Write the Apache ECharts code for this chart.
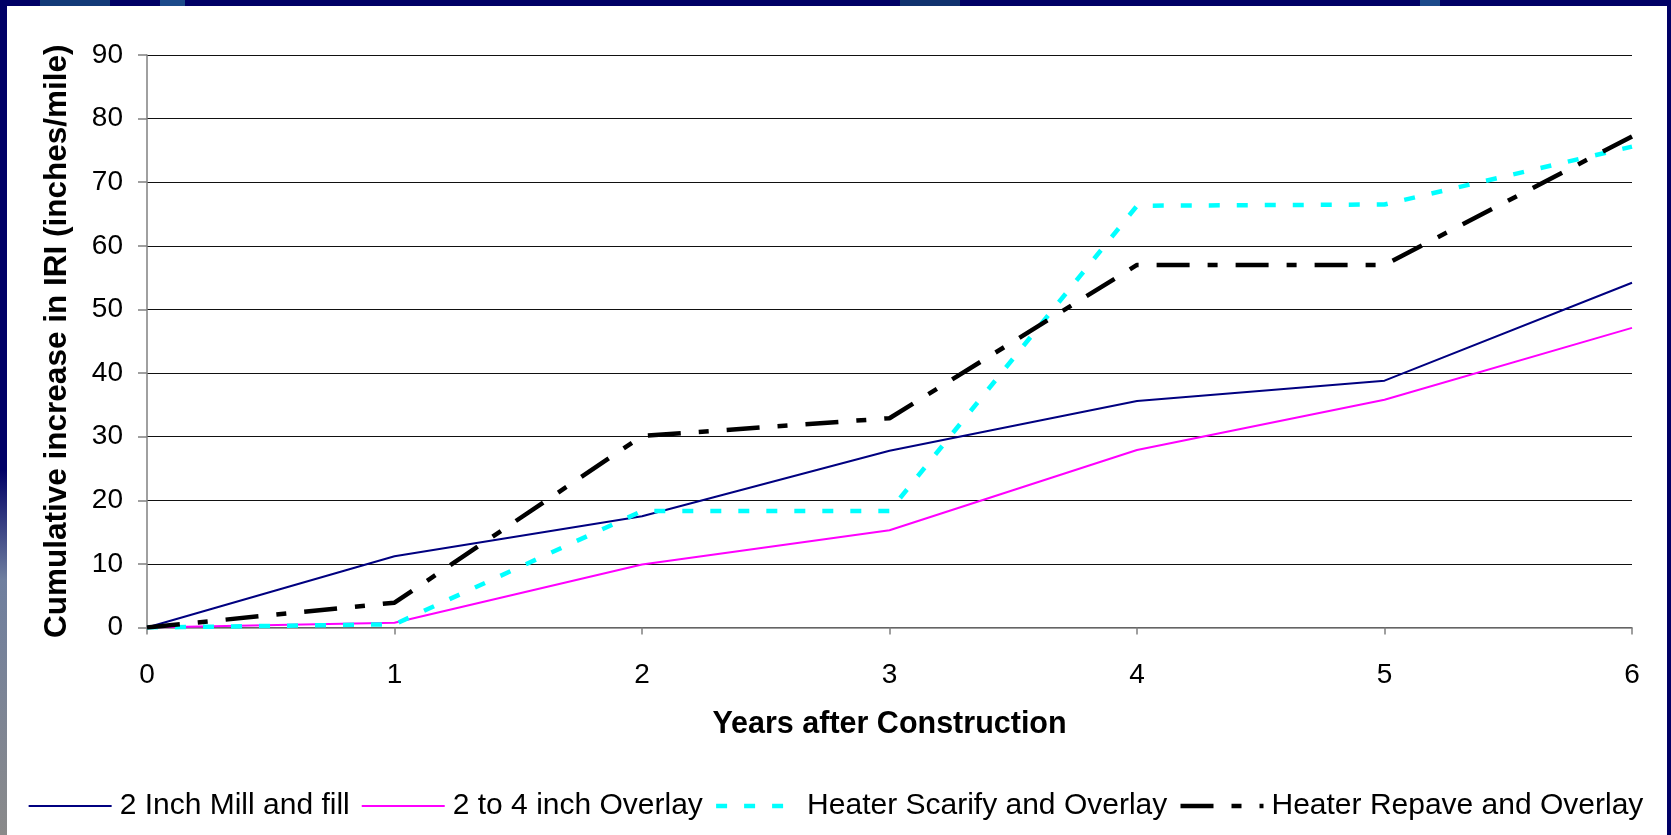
<!DOCTYPE html>
<html>
<head>
<meta charset="utf-8">
<script src="https://cdn.jsdelivr.net/npm/echarts@6/dist/echarts.min.js"></script>
<style>
  html, body { margin: 0; padding: 0; background: #000066; }
  #chart { width: 1671px; height: 835px; }
</style>
</head>
<body>
<div id="chart"></div>
<script>
// Years after construction (x values)
const years = [0, 1, 2, 3, 4, 5, 6];

// Cumulative IRI increase (inches/mile) per treatment
const millAndFill      = [0, 11.2, 17.5, 27.8, 35.6, 38.8, 54.2];
const overlay2to4      = [0, 0.75, 9.9, 15.3, 27.9, 35.8, 47.1];
const heaterScarify    = [0, 0.5, 18.3, 18.3, 66.3, 66.5, 75.6];
const heaterRepave     = [0, 3.9, 30.1, 32.9, 57.0, 57.0, 77.2];

const seriesNames = [
  '2 Inch Mill and fill',
  '2 to 4 inch Overlay',
  'Heater Scarify and Overlay',
  'Heater Repave and Overlay'
];

const yTicks = { min: 0, max: 90, step: 10 };
const xTicks = { min: 0, max: 6, step: 1 };

const pairs = (vals) => years.map((x, i) => [x, vals[i]]);

const chart = echarts.init(document.getElementById('chart'), null, { renderer: 'canvas' });

const font = 'Arial, "Liberation Sans", Helvetica, sans-serif';

chart.setOption({
  backgroundColor: '#000066',
  animation: false,
  graphic: [
    // slide frame accents
    { type: 'rect', shape: { x: 0, y: 470, width: 7, height: 365 },
      style: { fill: new echarts.graphic.LinearGradient(0, 0, 0, 1, [
        { offset: 0, color: '#000066' }, { offset: 0.3, color: '#6f7f9f' },
        { offset: 1, color: '#8a8a8a' }]) }, z: -2 },
    { type: 'rect', shape: { x: 40, y: 0, width: 70, height: 6 }, style: { fill: '#123a78' }, z: -2 },
    { type: 'rect', shape: { x: 160, y: 0, width: 25, height: 6 }, style: { fill: '#1b4a8a' }, z: -2 },
    { type: 'rect', shape: { x: 1420, y: 0, width: 20, height: 6 }, style: { fill: '#1b4a8a' }, z: -2 },
    { type: 'rect', shape: { x: 900, y: 0, width: 60, height: 6 }, style: { fill: '#10326e' }, z: -2 },
    // white chart panel
    { type: 'rect', shape: { x: 7, y: 6, width: 1660, height: 829 },
      style: { fill: '#ffffff' }, z: -1 }
  ],
  grid: { left: 147, right: 39, top: 55, bottom: 207.5, containLabel: false },
  legend: {
    data: seriesNames,
    left: 'center',
    top: 786,
    itemWidth: 83,
    itemHeight: 28,
    itemGap: 11,
    itemStyle: { opacity: 0 },
    lineStyle: { width: 'inherit' },
    textStyle: { fontFamily: font, fontSize: 30, color: '#000', padding: [0, 0, 0, 3] }
  },
  xAxis: {
    type: 'value',
    min: xTicks.min, max: xTicks.max, interval: xTicks.step,
    name: 'Years after Construction',
    nameLocation: 'middle',
    nameGap: 82,
    nameTextStyle: { fontFamily: font, fontSize: 30.5, fontWeight: 'bold', color: '#000' },
    axisLine: { show: true, lineStyle: { color: '#808080', width: 1.5 } },
    axisTick: { show: true, length: 7, lineStyle: { color: '#808080', width: 1.5 } },
    axisLabel: { fontFamily: font, fontSize: 28, color: '#000', margin: 34 },
    splitLine: { show: false }
  },
  yAxis: {
    type: 'value',
    min: yTicks.min, max: yTicks.max, interval: yTicks.step,
    name: 'Cumulative increase in IRI (inches/mile)',
    nameLocation: 'middle',
    nameGap: 74,
    nameTextStyle: { fontFamily: font, fontSize: 31.5, fontWeight: 'bold', color: '#000' },
    axisLine: { show: true, lineStyle: { color: '#808080', width: 1.5 } },
    axisTick: { show: true, length: 9, lineStyle: { color: '#808080', width: 1.5 } },
    axisLabel: { fontFamily: font, fontSize: 28, color: '#000', margin: 24 },
    splitLine: { show: true, lineStyle: { color: '#111', width: 1.2 } }
  },
  series: [
    {
      name: seriesNames[0], type: 'line', data: pairs(millAndFill),
      symbol: 'none', color: '#000080',
      lineStyle: { color: '#000080', width: 2 }
    },
    {
      name: seriesNames[1], type: 'line', data: pairs(overlay2to4),
      symbol: 'none', color: '#ff00ff',
      lineStyle: { color: '#ff00ff', width: 2 }
    },
    {
      name: seriesNames[2], type: 'line', data: pairs(heaterScarify),
      symbol: 'none', color: '#00ffff',
      lineStyle: { color: '#00ffff', width: 4.5, type: [11, 17] }
    },
    {
      name: seriesNames[3], type: 'line', data: pairs(heaterRepave),
      symbol: 'none', color: '#000000',
      lineStyle: { color: '#000000', width: 4.5, type: [33, 18, 10, 18] }
    }
  ]
});
</script>
</body>
</html>
